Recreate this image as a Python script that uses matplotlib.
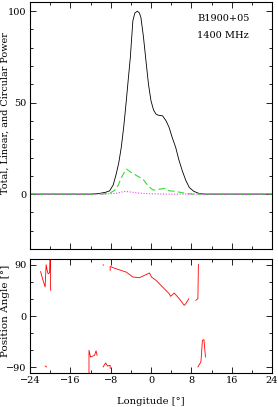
import numpy as np
import matplotlib
matplotlib.use("Agg")
import matplotlib.pyplot as plt
from matplotlib.ticker import MultipleLocator

plt.rcParams['font.family'] = ['DejaVu Serif']
plt.rcParams['font.size'] = 7

# total power profile
lon_i = [-24, -20, -16, -12, -10.2, -9.0, -8.2, -7.5, -6.9, -6.4, -5.9, -5.4, -4.9, -4.5, -4.1,
         -3.6, -3.2, -2.7, -2.3, -2.0, -1.5, -1.0, -0.5, 0.0, 0.5, 1.0, 1.6, 2.3, 3.0, 3.6,
         4.2, 4.9, 5.5, 6.2, 6.9, 7.6, 8.5, 9.5, 10.8, 14, 18, 24]
tot_i = [0, 0, 0, 0, 0.4, 1.0, 1.8, 5, 11, 17, 25.5, 37, 51, 63, 74.7,
         94.7, 99, 100, 99, 96.5, 86, 72.9, 60, 51, 46, 43.7, 43, 42.8, 40, 36.4,
         31, 25.5, 19, 12.8, 7.5, 3.6, 1.5, 0.4, 0, 0, 0, 0]

# linear polarisation
lon_l = [-24, -16, -10, -8.2, -6.9, -6.4, -5.9, -4.9, -3.9, -2.6, -1.6, -0.6, 0.4,
         1.7, 2.7, 3.6, 4.9, 5.9, 6.9, 8.2, 12, 18, 24]
lin_l = [0, 0, 0, 0.4, 2.7, 5.5, 9, 13.7, 11.8, 9.7, 8.2, 4.6, 2.2,
         2.7, 3.1, 1.8, 1.5, 0.9, 0.4, 0, 0, 0, 0]

# circular polarisation
lon_v = [-24, -16, -10, -6.9, -6.0, -5.1, -3.9, -2.2, -0.2, 3, 8, 16, 24]
circ_v = [0, 0, 0, 0.4, 1.0, 1.5, 1.1, 0.5, 0.2, 0, 0, 0, 0]

# position angle (NaN separates segments)
lon_pa = [-21.9, -21.5, -21.0, -20.8, -20.6, -20.4, -20.1, -20.0, -19.95, -19.9, np.nan,
          -21.0, -20.7, np.nan,
          -12.3, -12.3, -12.0, -11.2, -10.9, -10.7, np.nan,
          -9.5, -9.45, np.nan,
          -9.5, -9.0, -8.6, -8.1, -8.1, np.nan,
          -8.1, -8.1, -7.3, -4.9, -3.6, -2.3, -1.3, -0.3, 0.1, 1.0, 2.3, 3.6, 3.9,
          4.6, 5.6, 6.6, 6.9, 7.5, np.nan,
          8.9, 9.3, 9.4, np.nan,
          9.3, 9.9, 10.2, 10.5, 10.8]
pa = [78, 65, 51, 90, 80, 74, 76, 100, 70, 45, np.nan,
      -87.7, -89.4, np.nan,
      -100, -60, -72, -69, -61, -69, np.nan,
      90, 89, np.nan,
      -89.4, -82.4, -88, -86.5, -92, np.nan,
      80, 87, 84, 77, 68.4, 67.2, 71.3, 75.4, 68.4, 62.5, 50.8, 39.2, 34.5,
      40.3, 30.4, 18.7, 21.6, 30.4, np.nan,
      27.5, 30.4, 90.6, np.nan,
      -89.4, -80.6, -42.7, -41.5, -72]

fig = plt.figure(figsize=(2.78, 4.07), dpi=100)
ax1 = fig.add_axes([30 / 278, 1 - 249 / 407, 242 / 278, 247 / 407])
ax2 = fig.add_axes([30 / 278, 1 - 373 / 407, 242 / 278, 114 / 407])

ax1.plot(lon_i, tot_i, color='black', lw=0.6)
ax1.plot(lon_l, lin_l, color='#33dd33', lw=0.8, ls=(0, (6, 3)))
ax1.plot(lon_v, circ_v, color='#ee44ee', lw=0.8, ls=(0, (1, 1.5)))
ax1.set_xlim(-24, 24)
ax1.set_ylim(-30, 105)
ax1.set_yticks([0, 50, 100])
ax1.yaxis.set_minor_locator(MultipleLocator(10))
ax1.tick_params(labelbottom=False)
ax1.set_ylabel("Total, Linear, and Circular Power", fontsize=6.9, va='center')
ax1.yaxis.set_label_coords(-0.101, 0.55)
ax1.text(0.69, 0.935, "B1900+05", transform=ax1.transAxes, va='center')
ax1.text(0.69, 0.866, "1400 MHz", transform=ax1.transAxes, va='center')

ax2.plot(lon_pa, pa, color='red', lw=0.6)
ax2.set_xlim(-24, 24)
ax2.set_ylim(-100, 100)
ax2.set_yticks([-90, 0, 90])
ax2.yaxis.set_minor_locator(MultipleLocator(30))
ax2.set_ylabel("Position Angle [\u00b0]", fontsize=7.5, va='center')
ax2.yaxis.set_label_coords(-0.101, 0.544)
ax2.set_xlabel("Longitude [\u00b0]", fontsize=7.2, va='center')
ax2.xaxis.set_label_coords(0.5, -0.246)

for ax in (ax1, ax2):
    ax.xaxis.set_major_locator(MultipleLocator(8))
    ax.xaxis.set_minor_locator(MultipleLocator(4))
    ax.tick_params(which='both', direction='in', top=True, right=True, width=0.6)
    ax.tick_params(which='major', length=4, pad=2.5)
    ax.tick_params(which='minor', length=2)
    for s in ax.spines.values():
        s.set_linewidth(0.8)

fig.savefig("out.png", dpi=100)
